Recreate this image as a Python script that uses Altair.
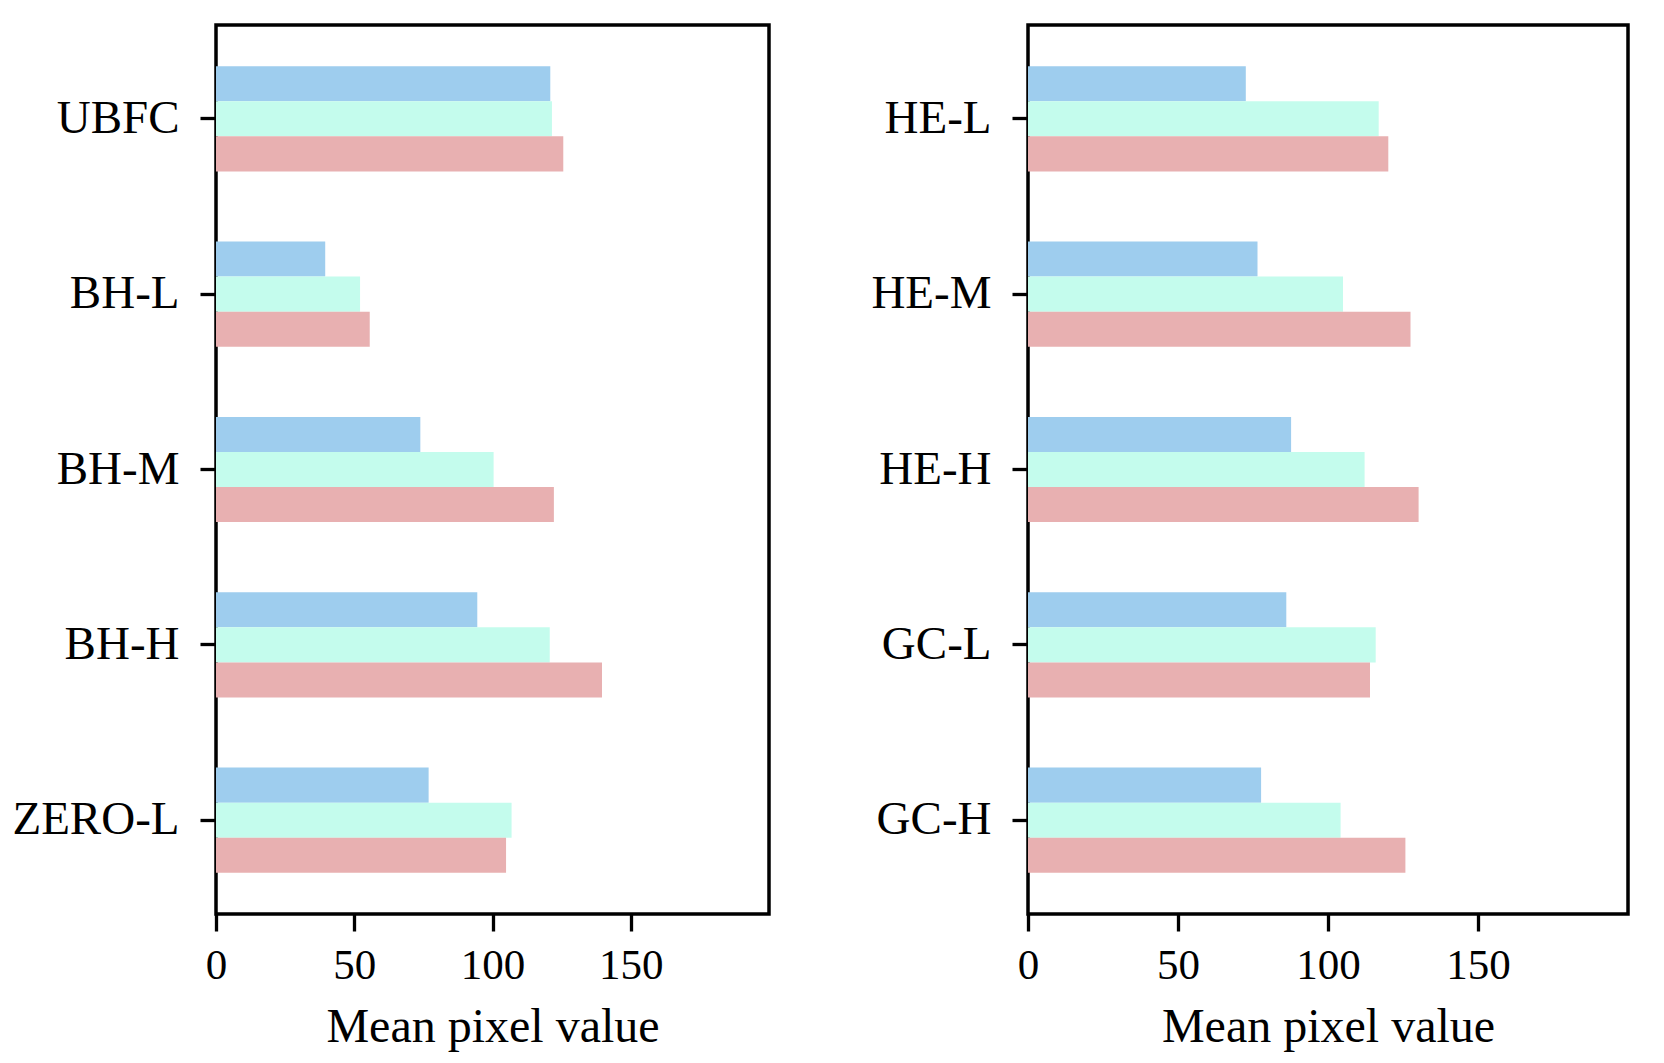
import altair as alt
import pandas as pd

# ---- data ----
series = ["Blue", "Green", "Red"]
colors = ["#9ECDEE", "#C4FCED", "#E8B0B1"]

left_cats = ["UBFC", "BH-L", "BH-M", "BH-H", "ZERO-L"]
left_blue = [120.9, 39.5, 73.9, 94.5, 76.9]
left_green = [121.5, 52.1, 100.4, 120.7, 106.9]
left_red = [125.6, 55.6, 122.2, 139.6, 104.9]

right_cats = ["HE-L", "HE-M", "HE-H", "GC-L", "GC-H"]
right_blue = [72.6, 76.5, 87.7, 86.1, 77.7]
right_green = [116.9, 105.0, 112.2, 115.9, 104.2]
right_red = [120.1, 127.5, 130.2, 114.0, 125.8]

x_ticks = [0, 50, 100, 150]
x_title = "Mean pixel value"

FONT = "Liberation Serif"


def make_df(cats, blue, green, red):
    rows = []
    for s, arr in zip(series, [blue, green, red]):
        for c, v in zip(cats, arr):
            rows.append({"cat": c, "series": s, "value": v})
    return pd.DataFrame(rows)


def panel(cats, blue, green, red, w):
    df = make_df(cats, blue, green, red)
    return (
        alt.Chart(df)
        .mark_bar()
        .encode(
            x=alt.X(
                "value:Q",
                scale=alt.Scale(domain=[0, 200], nice=False),
                axis=alt.Axis(
                    values=x_ticks,
                    title=x_title,
                    tickSize=17,
                    labelPadding=13,
                    labelFontSize=43,
                    titleFontSize=48,
                    titlePadding=16,
                    labelFlush=False,
                ),
            ),
            y=alt.Y(
                "cat:N",
                sort=cats,
                scale=alt.Scale(paddingInner=0.4, paddingOuter=0.235),
                axis=alt.Axis(
                    title=None,
                    tickSize=16,
                    labelPadding=21,
                    labelFontSize=47,
                    minExtent=202,
                    maxExtent=202,
                ),
            ),
            yOffset=alt.YOffset("series:N", sort=series),
            color=alt.Color(
                "series:N",
                scale=alt.Scale(domain=series, range=colors),
                legend=None,
            ),
        )
        .properties(width=w, height=889)
    )


left = panel(left_cats, left_blue, left_green, left_red, 553)
right = panel(right_cats, right_blue, right_green, right_red, 600)

chart = (
    alt.hconcat(left, right, spacing=53)
    .properties(padding={"left": 2, "top": 15, "right": 5, "bottom": 5})
    .configure_view(stroke="black", strokeWidth=3.5)
    .configure_axis(
        domain=False,
        grid=False,
        tickColor="black",
        tickWidth=3.3,
        labelFont=FONT,
        labelColor="black",
        titleFont=FONT,
        titleColor="black",
        titleFontWeight="normal",
    )
)

chart.save("out.html", embed_options={"renderer": "svg", "actions": False})
